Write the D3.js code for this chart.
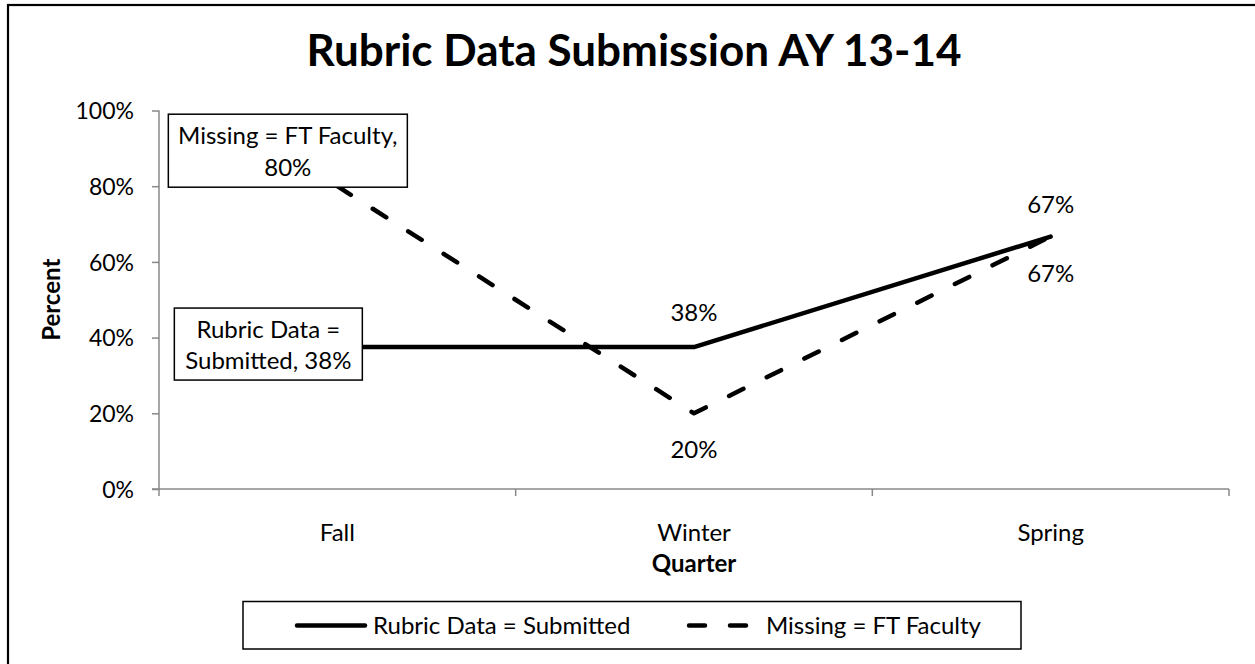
<!DOCTYPE html>
<html><head><meta charset="utf-8">
<script src="https://cdn.jsdelivr.net/npm/d3@7"></script>
<style>
body{margin:0;background:#fff;}
svg text{font-family:Lato,"Open Sans",sans-serif;fill:#000;}
</style></head>
<body><svg id="chart" width="1255" height="664"></svg>
<script>
const categories = ["Fall", "Winter", "Spring"];
const seriesNames = ["Rubric Data = Submitted", "Missing = FT Faculty"];
const submitted = [0.375, 0.375, 0.667];
const missing = [0.80, 0.20, 0.667];
const yTicks = [0, 0.2, 0.4, 0.6, 0.8, 1.0];
const titleText = "Rubric Data Submission AY 13-14";

const svg = d3.select("#chart");
const W = 1255, H = 664;
const m = {left: 159, right: 26, top: 110.5, bottom: 175};
const FS = "24px";

svg.append("rect").attr("x", 8).attr("y", 5).attr("width", W + 20).attr("height", H + 20)
  .attr("fill", "#fff").attr("stroke", "#000").attr("stroke-width", 2.2);

const x = d3.scaleBand().domain(categories).range([m.left, W - m.right]).paddingInner(0).paddingOuter(0);
const y = d3.scaleLinear().domain([0, 1]).range([H - m.bottom, m.top]);
const cx = d => x(d) + x.bandwidth() / 2;

svg.append("text").attr("x", 634).attr("y", 66).attr("text-anchor", "middle")
  .style("font-size", "44px").style("font-weight", "bold").text(titleText);

// y axis
const yAxis = svg.append("g").attr("transform", `translate(${m.left},0)`)
  .call(d3.axisLeft(y).tickValues(yTicks).tickFormat(d3.format(".0%")).tickSize(7).tickPadding(18));
yAxis.selectAll("path,line").attr("stroke", "#888").attr("stroke-width", 1.5);
yAxis.select(".domain").attr("d", `M0,${y(1)}V${y(0)}`);
yAxis.selectAll("text").style("font-size", "23px").style("font-family", "Lato").attr("dy", "0.36em");

// x axis
const xAxisG = svg.append("g").attr("transform", `translate(0,${y(0)})`);
xAxisG.append("path").attr("d", `M${m.left - 7},0H${W - m.right}`).attr("stroke", "#888").attr("stroke-width", 1.5).attr("fill", "none");
const boundaries = categories.map(c => x(c)).concat([x(categories[categories.length - 1]) + x.bandwidth()]);
xAxisG.selectAll("line.tk").data(boundaries).join("line").attr("class", "tk")
  .attr("x1", d => d).attr("x2", d => d).attr("y1", 0).attr("y2", 7).attr("stroke", "#888").attr("stroke-width", 1.5);
xAxisG.selectAll("text.cat").data(categories).join("text").attr("class", "cat")
  .attr("x", d => cx(d)).attr("y", 52).attr("text-anchor", "middle").style("font-size", FS).text(d => d);

svg.append("text").attr("x", cx("Winter")).attr("y", 572).attr("text-anchor", "middle")
  .style("font-size", FS).style("font-weight", "bold").text("Quarter");
svg.append("text").attr("transform", `translate(60,${(y(0) + y(1)) / 2}) rotate(-90)`).attr("text-anchor", "middle")
  .style("font-size", FS).style("font-weight", "bold").text("Percent");

// lines
const line = d3.line().x((d, i) => cx(categories[i])).y(d => y(d));
svg.append("path").datum(submitted).attr("d", line).attr("fill", "none").attr("stroke", "#000")
  .attr("stroke-width", 4.5).attr("stroke-linejoin", "round").attr("stroke-linecap", "round");
svg.append("path").datum(missing).attr("d", line).attr("fill", "none").attr("stroke", "#000")
  .attr("stroke-width", 4.5).attr("stroke-dasharray", "16 26").attr("stroke-linecap", "round").attr("stroke-linejoin", "round");

const pct = d3.format(".0%");
// data labels
function label(txt, px, py) {
  svg.append("text").attr("x", px).attr("y", py).attr("text-anchor", "middle").style("font-size", FS).text(txt);
}
label(pct(submitted[1]), cx("Winter"), y(submitted[1]) - 26);
label(pct(missing[1]), cx("Winter"), y(missing[1]) + 45);
label(pct(submitted[2]), cx("Spring"), y(submitted[2]) - 24);
label(pct(missing[2]), cx("Spring"), y(missing[2]) + 45);

// boxed labels for Fall
function boxLabel(lines, bx, by, bw, bh, baseline0, lh) {
  const g = svg.append("g");
  g.append("rect").attr("x", bx).attr("y", by).attr("width", bw).attr("height", bh)
    .attr("fill", "#fff").attr("stroke", "#000").attr("stroke-width", 1.5);
  lines.forEach((t, i) => g.append("text").attr("x", bx + bw / 2).attr("y", by + baseline0 + i * lh)
    .attr("text-anchor", "middle").style("font-size", FS).text(t));
}
const fx = cx("Fall");
boxLabel([seriesNames[1] + ",", pct(missing[0])], fx - 169, y(missing[0]) - 72, 239, 73, 30, 32);
boxLabel(["Rubric Data =", "Submitted, " + pct(submitted[0])], fx - 163, y(submitted[0]) - 39, 188, 72, 30, 31);

// legend
const lg = svg.append("g");
lg.append("rect").attr("x", 243).attr("y", 601.5).attr("width", 778).attr("height", 47.5)
  .attr("fill", "#fff").attr("stroke", "#000").attr("stroke-width", 1.5);
lg.append("line").attr("x1", 297).attr("x2", 365).attr("y1", 625.5).attr("y2", 625.5)
  .attr("stroke", "#000").attr("stroke-width", 4.5).attr("stroke-linecap", "round");
lg.append("text").attr("x", 373).attr("y", 634).style("font-size", FS).text(seriesNames[0]);
lg.append("line").attr("x1", 689).attr("x2", 746).attr("y1", 625.5).attr("y2", 625.5)
  .attr("stroke", "#000").attr("stroke-width", 4.5).attr("stroke-linecap", "round").attr("stroke-dasharray", "16 25");
lg.append("text").attr("x", 766).attr("y", 634).style("font-size", FS).text(seriesNames[1]);
</script></body></html>
